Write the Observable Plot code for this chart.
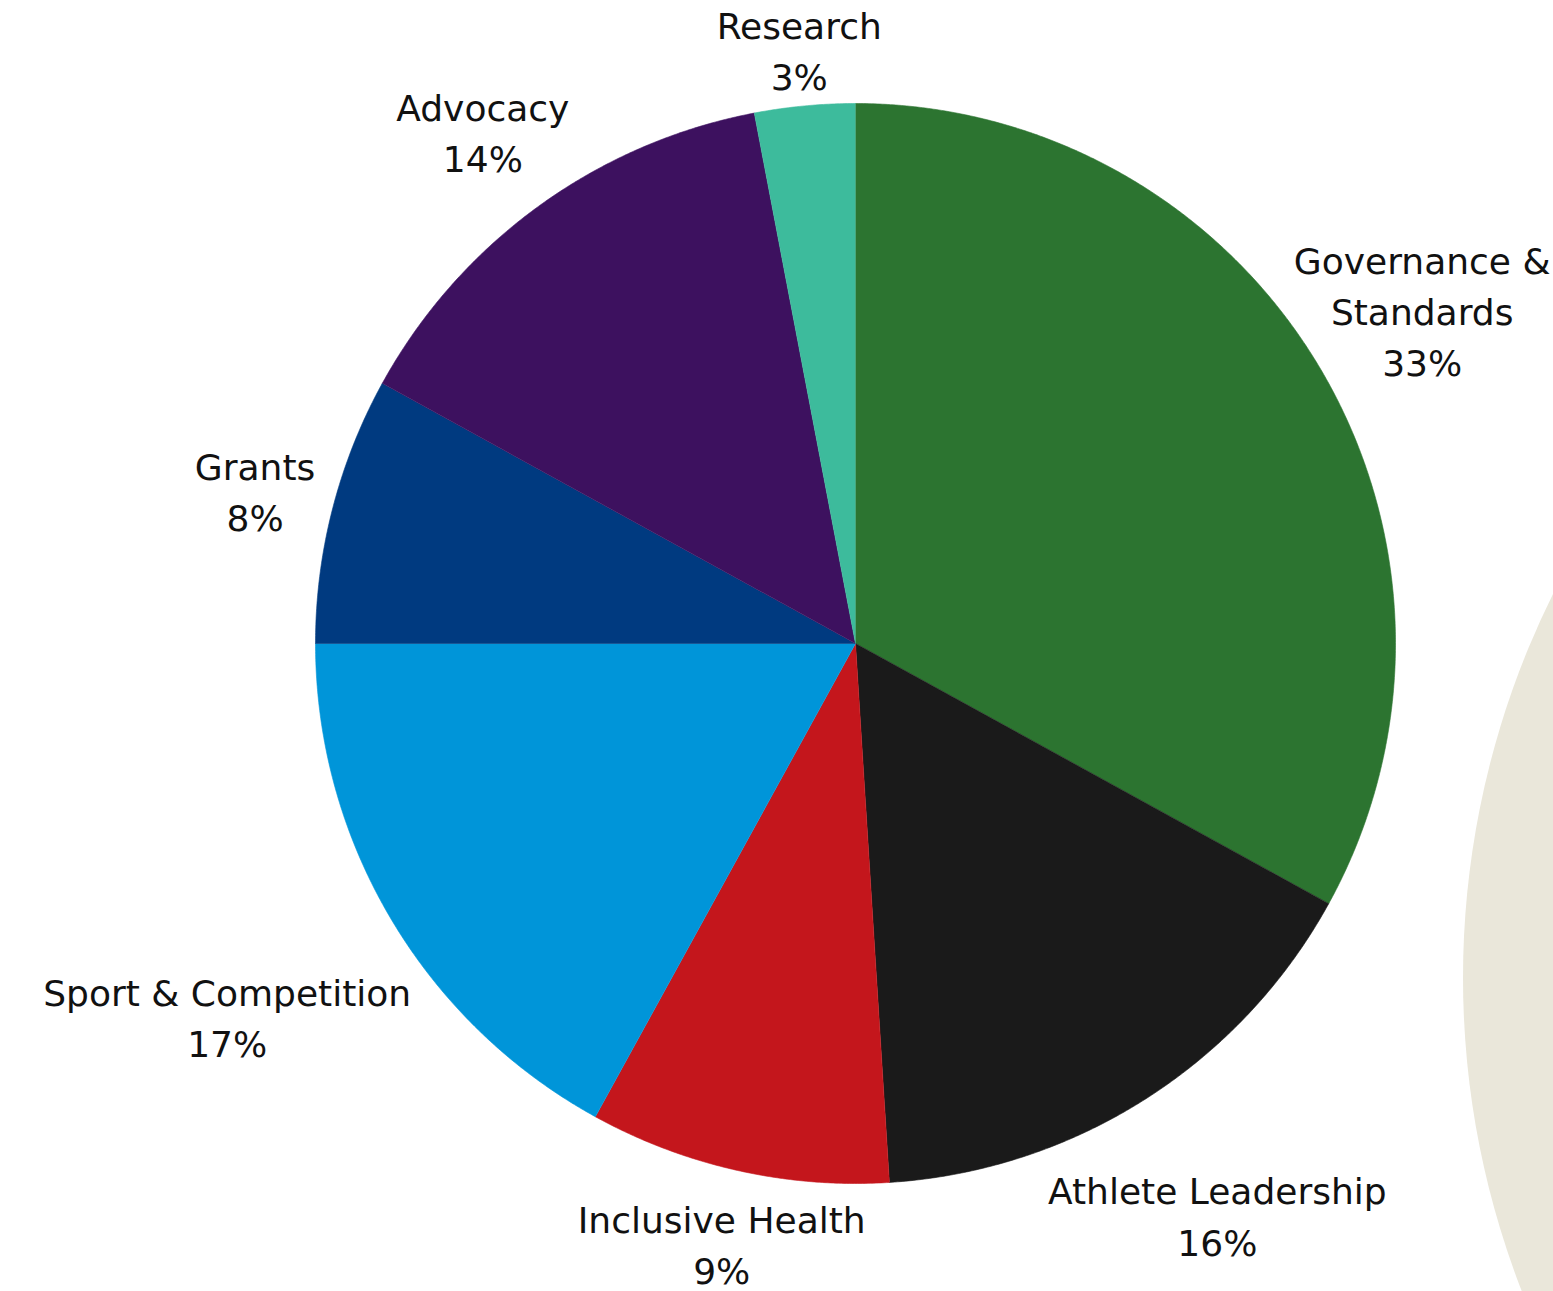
<!DOCTYPE html>
<html>
<head>
<meta charset="utf-8">
<script src="https://cdn.jsdelivr.net/npm/d3@7"></script>
<script src="https://cdn.jsdelivr.net/npm/@observablehq/plot@0.6"></script>
<style>
  html, body { margin: 0; padding: 0; background: #ffffff; overflow: hidden; }
  #wrap { position: relative; width: 1553px; height: 1291px; overflow: hidden; }
  #deco { position: absolute; left: 1463px; top: 114px; width: 1728px; height: 1728px; border-radius: 50%; background: #eae7da; }
  #chart { position: absolute; left: 0; top: 0; }
</style>
</head>
<body>
<div id="wrap"><div id="deco"></div><div id="chart"></div></div>
<script>
// ---- data ----
const categories = ["Governance &\nStandards", "Athlete Leadership", "Inclusive Health", "Sport & Competition", "Grants", "Advocacy", "Research"];
const shares = [33, 16, 9, 17, 8, 14, 3];
const colors = ["#2c7430", "#1a1a1a", "#c4161c", "#0095d9", "#003a80", "#3d115f", "#3dbb9c"];

// ---- layout ----
const W = 1553, H = 1291;
const CX = 855, CY = 643, R = 540;
const FONT = '"DejaVu Sans", sans-serif';
const FS = 36, LH = 1.42, GAP = 12, PAD = 3;

const table = categories.map((c, i) => ({category: c, share: shares[i]}));
const arcs = d3.pie().sort(null).value(d => d.share)(table);

// slice polygons in unit-radius coordinates (y up)
const polys = [];
arcs.forEach(p => {
  const c = p.data.category;
  const n = Math.max(2, Math.ceil((p.endAngle - p.startAngle) / 0.005));
  polys.push({category: c, x: 0, y: 0});
  for (let i = 0; i <= n; i++) {
    const a = p.startAngle + (p.endAngle - p.startAngle) * i / n;
    polys.push({category: c, x: Math.sin(a), y: Math.cos(a)});
  }
});

// label placement: along mid-angle ray, just outside the pie, kept in view
const ctx = document.createElement("canvas").getContext("2d");
ctx.font = `${FS}px ${FONT}`;
const labels = arcs.map(p => {
  const text = `${p.data.category}\n${p.data.share}%`;
  const lines = text.split("\n");
  const w = Math.max(...lines.map(s => ctx.measureText(s).width));
  const h = (lines.length - 1) * LH * FS + 0.72 * FS;
  const mid = (p.startAngle + p.endAngle) / 2;
  const ux = Math.sin(mid), uy = -Math.cos(mid);
  let t = R + GAP + (w / 2) * Math.abs(ux) + (h / 2) * Math.abs(uy);
  const px = CX + t * ux, py = CY + t * uy;
  const hb = h / 2 + 0.22 * FS; // room for descenders at the bottom edge
  if (px + w / 2 > W - PAD && ux > 0) t = Math.min(t, (W - PAD - w / 2 - CX) / ux);
  if (px - w / 2 < PAD && ux < 0) t = Math.min(t, (PAD + w / 2 - CX) / ux);
  if (py - h / 2 < PAD && uy < 0) t = Math.min(t, (PAD + h / 2 - CY) / uy);
  if (py + hb > H - PAD && uy > 0) t = Math.min(t, (H - PAD - hb - CY) / uy);
  return {text, x: t * ux / R, y: -t * uy / R};
});

const chart = Plot.plot({
  width: W,
  height: H,
  margin: 0,
  style: {background: "transparent", fontFamily: FONT, overflow: "visible"},
  x: {domain: [-CX / R, (W - CX) / R], range: [0, W], axis: null},
  y: {domain: [-(H - CY) / R, CY / R], range: [H, 0], axis: null},
  color: {domain: categories, range: colors},
  marks: [
    Plot.line(polys, {x: "x", y: "y", z: "category", fill: "category", stroke: "category", strokeWidth: 0.6, curve: "linear"}),
    Plot.text(labels, {x: "x", y: "y", text: "text", fontSize: FS, lineHeight: LH, fill: "#111111", fontFamily: FONT})
  ]
});
document.getElementById("chart").appendChild(chart);
</script>
</body>
</html>
